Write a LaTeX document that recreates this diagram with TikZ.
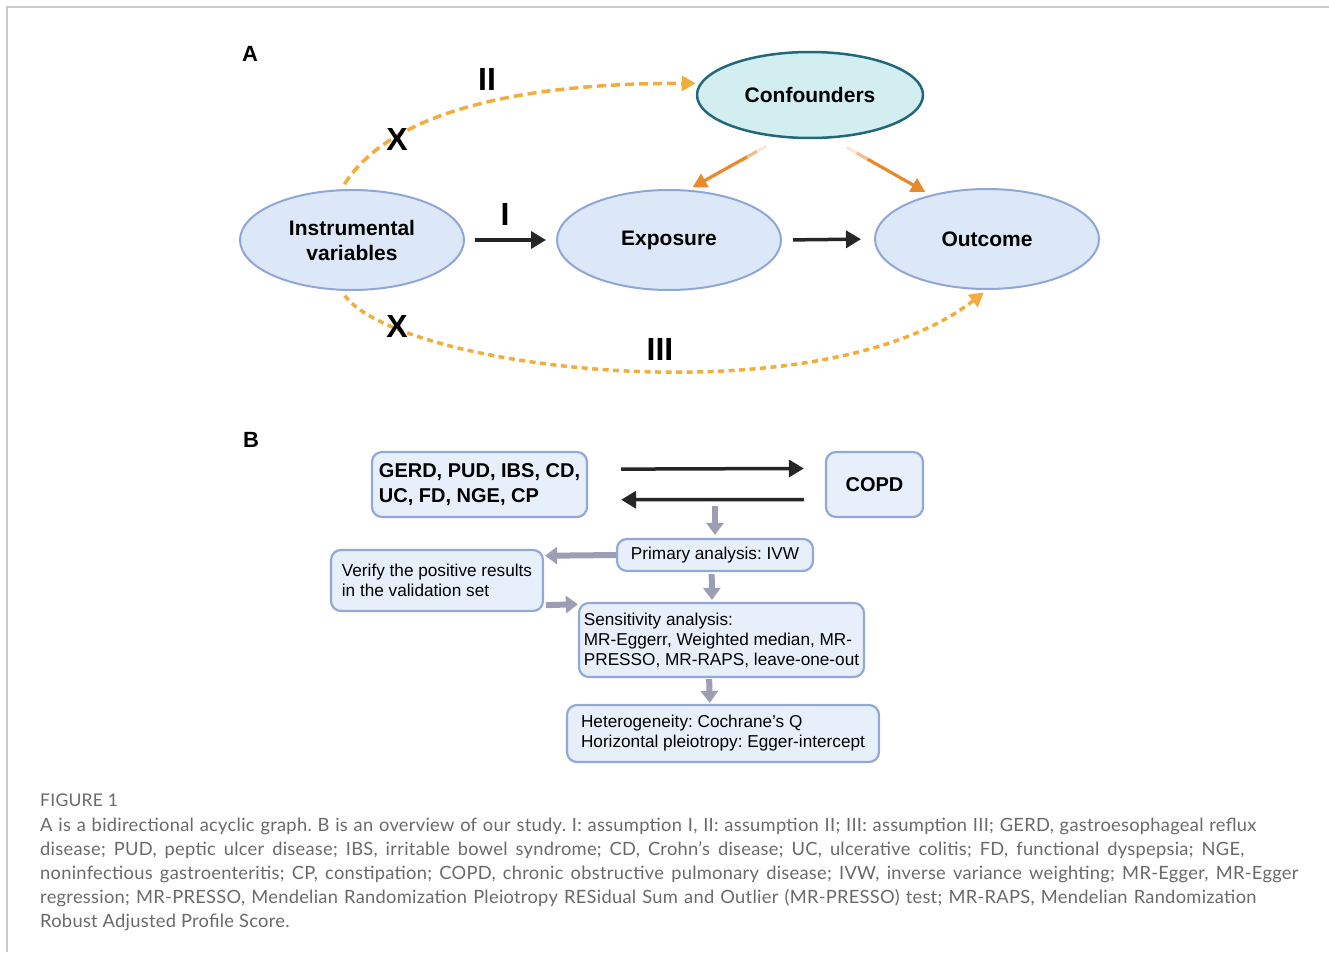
\documentclass[tikz,border=0pt]{standalone}
\usepackage{fontspec}
\setmainfont{Liberation Sans}
\newfontfamily\capfont[LetterSpace=1.5]{Lato}
\usetikzlibrary{arrows.meta,shapes.geometric,calc}
\definecolor{ellfill}{HTML}{DCE8F8}
\definecolor{ellline}{HTML}{8FA7D7}
\definecolor{conffill}{HTML}{D3EEF1}
\definecolor{confline}{HTML}{22687A}
\definecolor{dashor}{HTML}{F2AE3D}
\definecolor{solidor}{HTML}{E8892A}
\definecolor{boxfill}{HTML}{E7EFFB}
\definecolor{boxline}{HTML}{92A9D7}
\definecolor{grayarr}{HTML}{9C9FB4}
\definecolor{captxt}{HTML}{6A6A6A}
\definecolor{framecol}{HTML}{CACACA}
\frenchspacing
\begin{document}
\begin{tikzpicture}[x=1pt,y=-1pt,
  ell/.style={ellipse, draw=ellline, fill=ellfill, line width=2pt, inner sep=0pt,
    minimum width=224pt, minimum height=100pt, align=center,
    font=\fontsize{21}{25}\selectfont\bfseries},
  lab/.style={font=\fontsize{32}{32}\selectfont\bfseries, inner sep=0pt},
  panel/.style={font=\fontsize{22}{22}\selectfont\bfseries, inner sep=0pt},
  blk/.style={line width=3.5pt, black!85, -{Triangle[length=15pt,width=17pt]}},
  solarr/.style={line width=3.2pt, solidor, -{Triangle[length=14pt,width=15pt]}},
  dsh/.style={dashor, line width=3.5pt, dash pattern=on 9pt off 5pt, -{Triangle[length=14pt,width=15pt]}},
  dshb/.style={dashor, line width=3.5pt, dash pattern=on 6pt off 4.5pt, -{Triangle[length=14pt,width=15pt]}},
  bx/.style={draw=boxline, fill=boxfill, line width=2.2pt, rounded corners=10pt, inner sep=0pt, align=left},
  bbold/.style={font=\fontsize{20}{25}\selectfont\bfseries},
  breg/.style={font=\fontsize{17.2}{20}\selectfont},
  gar/.style={grayarr, line width=6pt, -{Triangle[length=12pt,width=17pt]}},
  capline/.style={anchor=base west, inner sep=0pt, text=captxt, font=\capfont\fontsize{18.3}{22}\selectfont}
]
\useasboundingbox (0,0) rectangle (1329,952);
\fill[white] (0,0) rectangle (1329,952);
\draw[framecol, line width=1.5pt] (7,952) -- (7,7) -- (1329,7);

% ---------- Panel A ----------
\node[panel] (pA) at (250,54) {A};
\node[ell] (iv) at (352,240) {Instrumental\\variables};
\node[ell] (exp) at (669,240) {Exposure};
\node[ell] (out) at (987,239) {Outcome};
\node[ell, draw=confline, fill=conffill, line width=2.5pt, minimum width=226pt, minimum height=86pt] (conf) at (810,95) {Confounders};

\draw[blk, shorten <=10pt, shorten >=10pt] (iv.east) -- (exp.west);
\draw[blk, shorten <=11pt, shorten >=13pt] (exp.east) -- (out.west);

% confounders -> exposure (faded start)
\coordinate (c1s) at ($(conf.236)!17pt!(exp.69)$);
\draw[solidor!20, line width=3.2pt] (c1s) -- ($(c1s)!0.12!(exp.69)$);
\draw[solidor!55, line width=3.2pt] ($(c1s)!0.12!(exp.69)$) -- ($(c1s)!0.26!(exp.69)$);
\draw[solarr, shorten >=5pt] ($(c1s)!0.25!(exp.69)$) -- (exp.69);
% confounders -> outcome (faded start)
\coordinate (c2s) at ($(conf.296.6)!18pt!(out.142.3)$);
\draw[solidor!20, line width=3.2pt] (c2s) -- ($(c2s)!0.12!(out.142.3)$);
\draw[solidor!55, line width=3.2pt] ($(c2s)!0.12!(out.142.3)$) -- ($(c2s)!0.26!(out.142.3)$);
\draw[solarr, shorten >=6pt] ($(c2s)!0.25!(out.142.3)$) -- (out.142.3);

\draw[dsh, shorten <=6pt, shorten >=4pt] (iv.102) .. controls (395,105) and (540,83) .. (conf.174);
\draw[dshb, shorten <=6pt, shorten >=4pt] (iv.258) .. controls (400,370) and (820,420) .. (out.south);

\node[lab] (lI) at (505,214) {I};
\node[lab] (lII) at (487,79) {II};
\node[lab] (lIII) at (660,349) {III};
\node[lab] (x1) at (397,139) {X};
\node[lab] (x2) at (397,326) {X};

% ---------- Panel B ----------
\node[panel] (pB) at (251,440) {B};
\node[bx, bbold, minimum width=215pt, minimum height=65pt] (gerd) at (479.5,484.5) {GERD, PUD, IBS, CD,\\UC, FD, NGE, CP};
\node[bx, bbold, minimum width=97pt, minimum height=65pt] (copd) at (874.5,484.5) {COPD};
\node[bx, breg, minimum width=196pt, minimum height=32pt] (prim) at (715,555) {Primary analysis: IVW};
\node[bx, breg, minimum width=212pt, minimum height=61pt] (ver) at (437,580.5) {Verify the positive results\\in the validation set};
\node[bx, breg, minimum width=285pt, minimum height=74pt] (sens) at (721.5,640) {Sensitivity analysis:\\MR-Eggerr, Weighted median, MR-\\PRESSO, MR-RAPS, leave-one-out};
\node[bx, breg, minimum width=312pt, minimum height=57pt] (het) at (723,733.5) {Heterogeneity: Cochrane's Q\\Horizontal pleiotropy: Egger-intercept};

\draw[blk, shorten <=33pt, shorten >=21pt] (gerd.8.2) -- (copd.162.3);
\draw[blk, shorten <=21pt, shorten >=33pt] (copd.197.7) -- (gerd.-8.2);

\coordinate (split) at (715,506);
\draw[gar, shorten >=3pt] (split) -- (prim.north);
\draw[gar, shorten >=1pt] (prim.west) -- (ver.13);
\draw[gar, shorten <=2pt, shorten >=0pt] (ver.-13.5) -- (sens.166.6);
\draw[gar, shorten <=2pt, shorten >=2pt] (prim.259.4) -- (sens.104.4);
\draw[gar, shorten <=1pt, shorten >=1pt] (sens.252.7) -- (het.114.5);

% ---------- Caption ----------
\node[capline, font=\capfont\fontsize{17.5}{20}\selectfont] (fig) at (40,806) {FIGURE 1};
\node[capline] (c1) at (40,831) {\makebox[1216pt][s]{A is a bidirectional acyclic graph. B is an overview of our study. I: assumption I, II: assumption II; III: assumption III; GERD, gastroesophageal reflux}};
\node[capline] (c2) at (40,855) {\makebox[1204pt][s]{disease; PUD, peptic ulcer disease; IBS, irritable bowel syndrome; CD, Crohn’s disease; UC, ulcerative colitis; FD, functional dyspepsia; NGE,}};
\node[capline] (c3) at (40,879) {\makebox[1258pt][s]{noninfectious gastroenteritis; CP, constipation; COPD, chronic obstructive pulmonary disease; IVW, inverse variance weighting; MR-Egger, MR-Egger}};
\node[capline] (c4) at (40,903) {\makebox[1216pt][s]{regression; MR-PRESSO, Mendelian Randomization Pleiotropy RESidual Sum and Outlier (MR-PRESSO) test; MR-RAPS, Mendelian Randomization}};
\node[capline] (c5) at (40,927) {Robust Adjusted Profile Score.};
\end{tikzpicture}
\end{document}
